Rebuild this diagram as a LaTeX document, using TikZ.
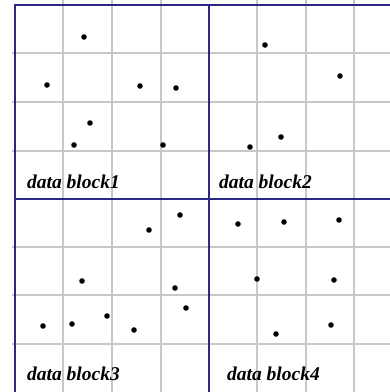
\documentclass[tikz,border=0pt]{standalone}
\usepackage{fontspec}
\setmainfont{Liberation Serif}
\definecolor{gridgrey}{RGB}{200,200,200}
\definecolor{frameblue}{RGB}{45,40,130}
\tikzset{
  gridline/.style={draw=gridgrey, line width=1.2pt},
  frameline/.style={draw=frameblue, line width=1.6pt},
  datadot/.style={fill=black},
  blocklabel/.style={anchor=base west, inner sep=0pt, font=\fontsize{19.5}{20}\selectfont\bfseries\itshape}
}
\begin{document}
\begin{tikzpicture}[x=1pt,y=-1pt]
\useasboundingbox (0,0) rectangle (390,392);
\fill[white] (0,0) rectangle (390,392);
% grey grid
\foreach \gx in {63,112,161,257,306,354} \draw[gridline] (\gx,0) -- (\gx,392);
\foreach \gy in {53,102,151,247,295,344} \draw[gridline] (12,\gy) -- (390,\gy);
% blue frame
\draw[frameline] (390,5) -- (15,5) -- (15,392);
\draw[frameline] (209,5) -- (209,392);
\draw[frameline] (15,199) -- (390,199);
% dots
\foreach \p in {(84,37),(47,85),(140,86),(176,88),(90,123),(74,145),(163,145),
  (265,45),(340,76),(281,137),(250,147),
  (180,215),(149,230),(82,281),(175,288),(186,308),(43,326),(72,324),(107,316),(134,330),
  (238,224),(284,222),(339,220),(257,279),(334,280),(331,325),(276,334)}
  \fill[datadot] \p circle (2.8);
% labels
\node[blocklabel] (b1) at (27,188) {data block1};
\node[blocklabel] (b2) at (219,188) {data block2};
\node[blocklabel] (b3) at (27,380) {data block3};
\node[blocklabel] (b4) at (227,380) {data block4};
\end{tikzpicture}
\end{document}
